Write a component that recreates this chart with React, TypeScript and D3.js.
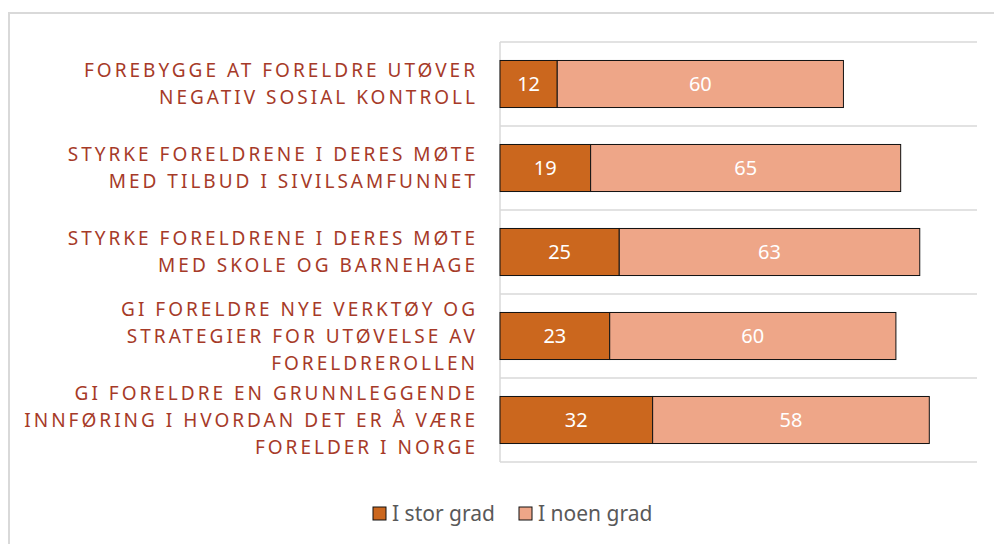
import React from "react";
import * as d3 from "d3";

const categories: string[][] = [
  ["FOREBYGGE AT FORELDRE UTØVER", "NEGATIV SOSIAL KONTROLL"],
  ["STYRKE FORELDRENE I DERES MØTE", "MED TILBUD I SIVILSAMFUNNET"],
  ["STYRKE FORELDRENE I DERES MØTE", "MED SKOLE OG BARNEHAGE"],
  ["GI FORELDRE NYE VERKTØY OG", "STRATEGIER FOR UTØVELSE AV", "FORELDREROLLEN"],
  ["GI FORELDRE EN GRUNNLEGGENDE", "INNFØRING I HVORDAN DET ER Å VÆRE", "FORELDER I NORGE"],
];
const seriesNames = ["I stor grad", "I noen grad"];
const storGrad = [12, 19, 25, 23, 32];
const noenGrad = [60, 65, 63, 60, 58];

const colors = ["#CB671E", "#EEA688"];
const FONT = "'Source Sans Pro', 'Noto Sans', 'Open Sans', sans-serif";

export default function App() {
  const W = 994, H = 544;
  const x = d3.scaleLinear().domain([0, 100]).range([500, 977]);
  const idx = categories.map((_, i) => i);
  const y = d3.scaleBand<number>().domain(idx).range([42, 462]).paddingInner(0.44).paddingOuter(0.22);
  const step = y.step();
  const gridYs = d3.range(categories.length + 1).map((i) => 42 + i * step);

  const stackData = idx.map((i) => ({ i, a: storGrad[i], b: noenGrad[i] }));
  const stack = d3.stack<any>().keys(["a", "b"])(stackData);

  return (
    <svg width={W} height={H} style={{ position: "absolute", left: 0, top: 0, background: "#fff" }} fontFamily={FONT}>
      <rect x={9} y={13} width={1200} height={800} fill="#fff" stroke="#D9D9D9" strokeWidth={2} />
      {gridYs.map((gy, k) => (
        <line key={k} x1={x(0)} x2={x(100)} y1={gy} y2={gy} stroke="#D9D9D9" strokeWidth={1.5} />
      ))}
      <line x1={x(0)} x2={x(0)} y1={42} y2={462} stroke="#D9D9D9" strokeWidth={1.5} />
      {stack.map((s, si) => (
        <g key={si}>
          {s.map((d, j) => {
            const x0 = x(d[0]), x1 = x(d[1]);
            const yy = y(j)!;
            const bw = y.bandwidth();
            const v = d[1] - d[0];
            return (
              <g key={j}>
                <rect x={x0} y={yy} width={x1 - x0} height={bw} fill={colors[si]} stroke="#111" strokeWidth={1} />
                <text x={(x0 + x1) / 2} y={yy + bw / 2} dy="0.35em" textAnchor="middle" fill="#fff" fontSize={20}>
                  {v}
                </text>
              </g>
            );
          })}
        </g>
      ))}
      {categories.map((lines, i) => {
        const cy = y(i)! + y.bandwidth() / 2;
        const lh = 27;
        const start = cy - ((lines.length - 1) * lh) / 2;
        return (
          <text key={i} textAnchor="end" fill="#A63A28" fontSize={19} letterSpacing={3}>
            {lines.map((ln, k) => (
              <tspan key={k} x={478} y={start + k * lh} dy="0.35em">
                {ln}
              </tspan>
            ))}
          </text>
        );
      })}
      {seriesNames.map((n, si) => {
        const lx = si === 0 ? 373 : 519;
        return (
          <g key={si}>
            <rect x={lx} y={507} width={13} height={13} fill={colors[si]} stroke="#111" strokeWidth={1} />
            <text x={lx + 19} y={513.5} dy="0.35em" fill="#595959" fontSize={21}>
              {n}
            </text>
          </g>
        );
      })}
    </svg>
  );
}
